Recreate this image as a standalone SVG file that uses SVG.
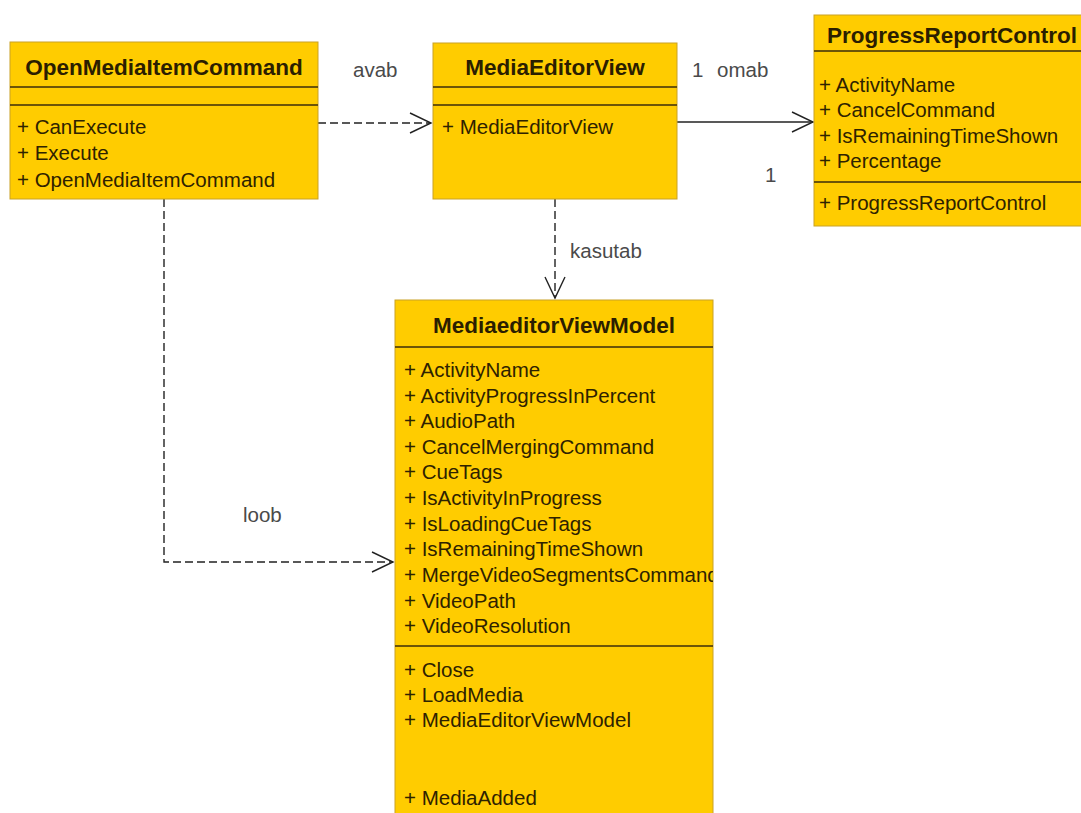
<svg xmlns="http://www.w3.org/2000/svg" width="1081" height="813" viewBox="0 0 1081 813">
  <style>
    .box { fill: #FFCC00; stroke: #C9A227; stroke-width: 1; }
    .div { stroke: #3B2D0A; stroke-width: 1.6; }
    .title { font-family: "Liberation Sans", Arial, sans-serif; font-weight: bold; font-size: 22.5px; fill: #2B1E00; text-anchor: middle; }
    .mem { font-family: "Liberation Sans", Arial, sans-serif; font-size: 20.5px; fill: #2E2200; }
    .lbl { font-family: "Liberation Sans", Arial, sans-serif; font-size: 20.5px; fill: #4A4A4A; }
    .conn { fill: none; stroke: #222; stroke-width: 1.4; }
    .dash { stroke-dasharray: 8 4; }
  </style>
  <defs>
    <marker id="open" viewBox="0 0 24 24" refX="22" refY="12" markerWidth="24" markerHeight="24" markerUnits="userSpaceOnUse" orient="auto">
      <path d="M1,2 L22,12 L1,22" fill="none" stroke="#222" stroke-width="1.4"/>
    </marker>
    <clipPath id="vmClip">
      <rect x="395" y="300" width="318" height="520"/>
    </clipPath>
  </defs>

  <rect width="1081" height="813" fill="#FFFFFF"/>

  <!-- connectors -->
  <g id="connectors">
    <path class="conn dash" d="M318,123 H431" marker-end="url(#open)"/>
    <path class="conn" d="M677,122 H813" marker-end="url(#open)"/>
    <path class="conn dash" d="M555,199 V298" marker-end="url(#open)"/>
    <path class="conn dash" d="M164,199 V562 H393" marker-end="url(#open)"/>
    <text class="lbl" x="353" y="77">avab</text>
    <text class="lbl" x="692" y="77">1</text>
    <text class="lbl" x="717" y="77">omab</text>
    <text class="lbl" x="765" y="182">1</text>
    <text class="lbl" x="570" y="258">kasutab</text>
    <text class="lbl" x="243" y="522">loob</text>
  </g>

  <!-- OpenMediaItemCommand -->
  <g id="OpenMediaItemCommand">
    <rect class="box" x="10" y="42" width="308" height="157"/>
    <text class="title" x="164" y="75">OpenMediaItemCommand</text>
    <line class="div" x1="10" y1="87" x2="318" y2="87"/>
    <line class="div" x1="10" y1="105" x2="318" y2="105"/>
    <text class="mem" x="17" y="134">+ CanExecute</text>
    <text class="mem" x="17" y="160">+ Execute</text>
    <text class="mem" x="17" y="187">+ OpenMediaItemCommand</text>
  </g>

  <!-- MediaEditorView -->
  <g id="MediaEditorView">
    <rect class="box" x="433" y="43" width="244" height="156"/>
    <text class="title" x="555" y="75">MediaEditorView</text>
    <line class="div" x1="433" y1="87" x2="677" y2="87"/>
    <line class="div" x1="433" y1="105" x2="677" y2="105"/>
    <text class="mem" x="442" y="134">+ MediaEditorView</text>
  </g>

  <!-- ProgressReportControl -->
  <g id="ProgressReportControl">
    <rect class="box" x="814" y="15" width="280" height="211"/>
    <text class="title" x="952" y="43">ProgressReportControl</text>
    <line class="div" x1="814" y1="51" x2="1094" y2="51"/>
    <text class="mem" x="819" y="92">+ ActivityName</text>
    <text class="mem" x="819" y="117">+ CancelCommand</text>
    <text class="mem" x="819" y="143">+ IsRemainingTimeShown</text>
    <text class="mem" x="819" y="168">+ Percentage</text>
    <line class="div" x1="814" y1="182" x2="1094" y2="182"/>
    <text class="mem" x="819" y="210">+ ProgressReportControl</text>
  </g>

  <!-- MediaeditorViewModel -->
  <g id="MediaeditorViewModel">
    <rect class="box" x="395" y="300" width="318" height="520"/>
    <g clip-path="url(#vmClip)">
      <text class="title" x="554" y="333">MediaeditorViewModel</text>
      <line class="div" x1="395" y1="347" x2="713" y2="347"/>
      <text class="mem" x="404" y="377">+ ActivityName</text>
      <text class="mem" x="404" y="403">+ ActivityProgressInPercent</text>
      <text class="mem" x="404" y="428">+ AudioPath</text>
      <text class="mem" x="404" y="454">+ CancelMergingCommand</text>
      <text class="mem" x="404" y="479">+ CueTags</text>
      <text class="mem" x="404" y="505">+ IsActivityInProgress</text>
      <text class="mem" x="404" y="531">+ IsLoadingCueTags</text>
      <text class="mem" x="404" y="556">+ IsRemainingTimeShown</text>
      <text class="mem" x="404" y="582">+ MergeVideoSegmentsCommand</text>
      <text class="mem" x="404" y="608">+ VideoPath</text>
      <text class="mem" x="404" y="633">+ VideoResolution</text>
      <line class="div" x1="395" y1="646" x2="713" y2="646"/>
      <text class="mem" x="404" y="677">+ Close</text>
      <text class="mem" x="404" y="702">+ LoadMedia</text>
      <text class="mem" x="404" y="727">+ MediaEditorViewModel</text>
      <text class="mem" x="404" y="805">+ MediaAdded</text>
    </g>
  </g>
</svg>
